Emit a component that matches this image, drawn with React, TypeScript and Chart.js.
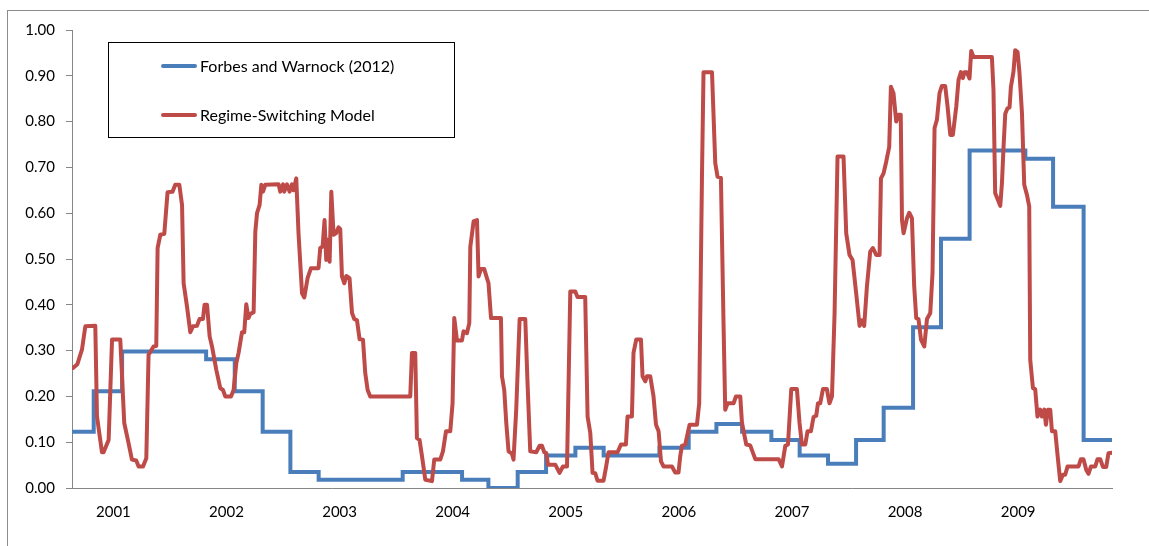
import { useEffect, useRef } from "react";
import { Chart, registerables } from "chart.js";

Chart.register(...registerables);

// x axis: decimal years, labels at each year
const yearTicks = [2001, 2002, 2003, 2004, 2005, 2006, 2007, 2008, 2009];
const xMin = 2000.634;
const xMax = 2009.83;

// Forbes and Warnock (2012): quarterly step values, each holds until next date
const fwDates = [
  2000.634, 2000.826, 2001.077, 2001.82, 2002.073, 2002.32, 2002.565, 2002.815,
  2003.558, 2004.083, 2004.316, 2004.575, 2004.826, 2005.085, 2005.335, 2005.828,
  2006.087, 2006.332, 2006.559, 2006.818, 2007.068, 2007.319, 2007.567, 2007.811,
  2008.071, 2008.318, 2008.571, 2009.064, 2009.309, 2009.579, 2009.83,
];
const fwValues = [
  0.123, 0.211, 0.298, 0.281, 0.211, 0.123, 0.035, 0.018,
  0.035, 0.018, 0.0, 0.035, 0.071, 0.088, 0.071, 0.088,
  0.123, 0.14, 0.123, 0.105, 0.071, 0.053, 0.105, 0.175,
  0.351, 0.544, 0.737, 0.719, 0.614, 0.105, 0.105,
];

// Regime-Switching Model probabilities
const rsDates = [
  2000.643, 2000.681, 2000.722, 2000.752, 2000.84, 2000.855, 2000.899, 2000.913, 2000.958, 2000.988,
  2001.061, 2001.096, 2001.134, 2001.164, 2001.202, 2001.223, 2001.262, 2001.291, 2001.311, 2001.355,
  2001.379, 2001.391, 2001.415, 2001.45, 2001.479, 2001.523, 2001.547, 2001.583, 2001.607, 2001.621,
  2001.651, 2001.68, 2001.704, 2001.739, 2001.762, 2001.792, 2001.806, 2001.828, 2001.851, 2001.872,
  2001.91, 2001.945, 2001.969, 2001.989, 2002.04, 2002.063, 2002.087, 2002.107, 2002.137, 2002.157,
  2002.175, 2002.195, 2002.21, 2002.24, 2002.255, 2002.27, 2002.293, 2002.308, 2002.323, 2002.343,
  2002.461, 2002.476, 2002.5, 2002.511, 2002.535, 2002.558, 2002.579, 2002.593, 2002.617, 2002.637,
  2002.668, 2002.688, 2002.717, 2002.747, 2002.814, 2002.829, 2002.85, 2002.867, 2002.882, 2002.894,
  2002.912, 2002.927, 2002.947, 2002.968, 2002.991, 2003.006, 2003.021, 2003.042, 2003.059, 2003.088,
  2003.11, 2003.13, 2003.154, 2003.177, 2003.207, 2003.227, 2003.248, 2003.271, 2003.625, 2003.64,
  2003.669, 2003.684, 2003.707, 2003.729, 2003.758, 2003.817, 2003.837, 2003.89, 2003.914, 2003.941,
  2003.979, 2003.999, 2004.014, 2004.038, 2004.082, 2004.096, 2004.126, 2004.147, 2004.156, 2004.185,
  2004.215, 2004.229, 2004.25, 2004.279, 2004.317, 2004.339, 2004.427, 2004.436, 2004.456, 2004.474,
  2004.494, 2004.524, 2004.538, 2004.562, 2004.592, 2004.642, 2004.662, 2004.686, 2004.739, 2004.768,
  2004.79, 2004.81, 2004.828, 2004.843, 2004.907, 2004.945, 2004.975, 2005.011, 2005.04, 2005.084,
  2005.104, 2005.172, 2005.193, 2005.217, 2005.237, 2005.261, 2005.281, 2005.334, 2005.355, 2005.378,
  2005.458, 2005.488, 2005.532, 2005.546, 2005.585, 2005.599, 2005.623, 2005.665, 2005.679, 2005.703,
  2005.718, 2005.747, 2005.776, 2005.798, 2005.821, 2005.842, 2005.865, 2005.939, 2005.968, 2005.997,
  2006.012, 2006.027, 2006.057, 2006.095, 2006.16, 2006.18, 2006.204, 2006.218, 2006.293, 2006.322,
  2006.342, 2006.372, 2006.395, 2006.41, 2006.431, 2006.484, 2006.505, 2006.543, 2006.558, 2006.596,
  2006.631, 2006.676, 2006.882, 2006.912, 2006.941, 2006.965, 2006.994, 2007.044, 2007.067, 2007.088,
  2007.118, 2007.138, 2007.168, 2007.191, 2007.215, 2007.23, 2007.25, 2007.274, 2007.309, 2007.332,
  2007.354, 2007.377, 2007.403, 2007.456, 2007.48, 2007.509, 2007.536, 2007.568, 2007.598, 2007.619,
  2007.639, 2007.663, 2007.692, 2007.716, 2007.745, 2007.775, 2007.787, 2007.81, 2007.834, 2007.86,
  2007.875, 2007.898, 2007.922, 2007.943, 2007.962, 2007.973, 2007.987, 2008.017, 2008.037, 2008.061,
  2008.081, 2008.099, 2008.119, 2008.141, 2008.17, 2008.194, 2008.223, 2008.243, 2008.261, 2008.282,
  2008.305, 2008.326, 2008.355, 2008.376, 2008.4, 2008.423, 2008.453, 2008.473, 2008.494, 2008.512,
  2008.526, 2008.547, 2008.57, 2008.585, 2008.606, 2008.768, 2008.782, 2008.797, 2008.818, 2008.842,
  2008.857, 2008.871, 2008.886, 2008.906, 2008.924, 2008.936, 2008.959, 2008.974, 2008.995, 2009.012,
  2009.034, 2009.054, 2009.078, 2009.098, 2009.107, 2009.131, 2009.151, 2009.171, 2009.195, 2009.21,
  2009.231, 2009.246, 2009.263, 2009.284, 2009.299, 2009.328, 2009.348, 2009.372, 2009.396, 2009.416,
  2009.437, 2009.534, 2009.555, 2009.578, 2009.602, 2009.622, 2009.644, 2009.682, 2009.702, 2009.726,
  2009.75, 2009.779, 2009.799, 2009.829,
];
const rsValues = [
  0.262, 0.27, 0.302, 0.353, 0.354, 0.156, 0.078, 0.078, 0.105, 0.324,
  0.324, 0.142, 0.098, 0.062, 0.06, 0.047, 0.047, 0.065, 0.291, 0.309,
  0.31, 0.524, 0.553, 0.555, 0.646, 0.647, 0.662, 0.662, 0.618, 0.447,
  0.396, 0.34, 0.353, 0.354, 0.369, 0.369, 0.4, 0.4, 0.331, 0.309,
  0.258, 0.218, 0.214, 0.2, 0.2, 0.214, 0.273, 0.295, 0.34, 0.34,
  0.401, 0.371, 0.38, 0.384, 0.56, 0.6, 0.618, 0.662, 0.647, 0.662,
  0.663, 0.647, 0.663, 0.647, 0.663, 0.647, 0.663, 0.65, 0.676, 0.556,
  0.425, 0.416, 0.458, 0.48, 0.48, 0.524, 0.527, 0.585, 0.498, 0.542,
  0.494, 0.647, 0.553, 0.556, 0.569, 0.565, 0.462, 0.447, 0.463, 0.458,
  0.382, 0.369, 0.366, 0.325, 0.324, 0.251, 0.214, 0.2, 0.2, 0.295,
  0.295, 0.109, 0.105, 0.069, 0.018, 0.015, 0.062, 0.062, 0.08, 0.124,
  0.124, 0.185, 0.371, 0.322, 0.322, 0.342, 0.338, 0.36, 0.527, 0.582,
  0.585, 0.462, 0.478, 0.478, 0.447, 0.371, 0.371, 0.244, 0.214, 0.142,
  0.08, 0.075, 0.062, 0.171, 0.369, 0.369, 0.229, 0.08, 0.078, 0.092,
  0.092, 0.078, 0.076, 0.051, 0.051, 0.033, 0.047, 0.047, 0.429, 0.429,
  0.417, 0.417, 0.156, 0.12, 0.033, 0.032, 0.016, 0.016, 0.044, 0.078,
  0.078, 0.095, 0.095, 0.156, 0.156, 0.295, 0.324, 0.324, 0.244, 0.233,
  0.244, 0.244, 0.2, 0.138, 0.124, 0.058, 0.047, 0.047, 0.034, 0.034,
  0.069, 0.092, 0.095, 0.138, 0.138, 0.185, 0.673, 0.908, 0.908, 0.709,
  0.68, 0.677, 0.36, 0.171, 0.185, 0.185, 0.2, 0.2, 0.142, 0.095,
  0.093, 0.063, 0.063, 0.047, 0.092, 0.095, 0.216, 0.216, 0.142, 0.095,
  0.095, 0.124, 0.124, 0.155, 0.158, 0.185, 0.185, 0.216, 0.216, 0.185,
  0.2, 0.382, 0.724, 0.724, 0.556, 0.509, 0.498, 0.425, 0.354, 0.366,
  0.354, 0.44, 0.516, 0.524, 0.509, 0.509, 0.676, 0.687, 0.713, 0.745,
  0.876, 0.862, 0.8, 0.815, 0.815, 0.585, 0.556, 0.589, 0.601, 0.589,
  0.44, 0.371, 0.369, 0.324, 0.309, 0.369, 0.382, 0.469, 0.786, 0.804,
  0.862, 0.878, 0.878, 0.833, 0.771, 0.771, 0.833, 0.891, 0.908, 0.895,
  0.908, 0.908, 0.894, 0.954, 0.941, 0.941, 0.869, 0.644, 0.631, 0.616,
  0.666, 0.745, 0.817, 0.829, 0.831, 0.876, 0.909, 0.956, 0.952, 0.906,
  0.818, 0.662, 0.64, 0.615, 0.28, 0.218, 0.216, 0.156, 0.171, 0.156,
  0.171, 0.138, 0.171, 0.171, 0.124, 0.124, 0.073, 0.015, 0.029, 0.029,
  0.047, 0.047, 0.063, 0.063, 0.04, 0.031, 0.047, 0.047, 0.063, 0.063,
  0.046, 0.046, 0.076, 0.077,
];

const BLUE = "#4a7ebb";
const RED = "#be4b48";
const AXIS_GREY = "#868686";
const FONT = "Lato, 'Liberation Sans', sans-serif";

export default function App() {
  const canvasRef = useRef<HTMLCanvasElement | null>(null);

  useEffect(() => {
    if (!canvasRef.current) return;
    const ctx = canvasRef.current.getContext("2d");
    if (!ctx) return;

    const chart = new Chart(ctx, {
      type: "line",
      data: {
        datasets: [
          {
            label: "Forbes and Warnock (2012)",
            data: fwDates.map((d, i) => ({ x: d, y: fwValues[i] })),
            borderColor: BLUE,
            borderWidth: 4,
            // hold the previous value until the next date, then jump
            stepped: "before",
            pointRadius: 0,
            order: 1,
          },
          {
            label: "Regime-Switching Model",
            data: rsDates.map((d, i) => ({ x: d, y: rsValues[i] })),
            borderColor: RED,
            borderWidth: 4,
            tension: 0,
            borderJoinStyle: "round",
            borderCapStyle: "round",
            pointRadius: 0,
            order: 0,
          },
        ],
      },
      options: {
        responsive: false,
        animation: false,
        layout: { padding: { top: 30, right: 37, left: 0, bottom: 0 } },
        plugins: {
          legend: { display: false },
          tooltip: { enabled: false },
        },
        scales: {
          x: {
            type: "linear",
            min: xMin,
            max: xMax,
            grid: { display: true, drawOnChartArea: false, drawTicks: false },
            border: { display: true, color: AXIS_GREY, width: 1 },
            afterBuildTicks: (scale) => {
              scale.ticks = yearTicks.map((v) => ({ value: v }));
            },
            afterFit: (scale) => {
              scale.height = 58;
            },
            ticks: {
              padding: 15,
              maxRotation: 0,
              autoSkip: false,
              color: "#000",
              font: { family: FONT, size: 15 },
              callback: (value) => String(value),
            },
          },
          y: {
            min: 0,
            max: 1,
            grid: {
              display: true,
              drawOnChartArea: false,
              drawTicks: true,
              tickLength: 6,
              tickColor: AXIS_GREY,
            },
            border: { display: true, color: AXIS_GREY, width: 1 },
            afterFit: (scale) => {
              scale.width = 72;
            },
            ticks: {
              stepSize: 0.1,
              padding: 11,
              color: "#000",
              font: { family: FONT, size: 15 },
              callback: (value) => Number(value).toFixed(2),
            },
          },
        },
      },
    });

    return () => {
      chart.destroy();
    };
  }, []);

  return (
    <div
      style={{
        position: "absolute",
        left: 0,
        top: 0,
        width: 1149,
        height: 546,
        background: "#fff",
        overflow: "hidden",
      }}
    >
      {/* outer chart frame */}
      <div
        style={{
          position: "absolute",
          left: 7,
          top: 10,
          width: 1200,
          height: 600,
          borderTop: "1px solid #8c8c8c",
          borderLeft: "1px solid #8c8c8c",
        }}
      />
      <canvas
        ref={canvasRef}
        width={1149}
        height={546}
        style={{ position: "absolute", left: 0, top: 0 }}
      />
      {/* legend box */}
      <div
        style={{
          position: "absolute",
          left: 108,
          top: 42,
          width: 347,
          height: 96,
          border: "1px solid #000",
          boxSizing: "border-box",
          fontFamily: FONT,
          fontSize: 16,
          color: "#000",
        }}
      >
        {[
          { label: "Forbes and Warnock (2012)", color: BLUE, y: 23 },
          { label: "Regime-Switching Model", color: RED, y: 72 },
        ].map((item) => (
          <div key={item.label}>
            <span
              style={{
                position: "absolute",
                left: 52,
                top: item.y - 2,
                width: 36,
                height: 4,
                borderRadius: 2,
                background: item.color,
              }}
            />
            <span
              style={{
                position: "absolute",
                left: 91,
                top: item.y - 11,
                lineHeight: "22px",
                whiteSpace: "nowrap",
              }}
            >
              {item.label}
            </span>
          </div>
        ))}
      </div>
    </div>
  );
}
